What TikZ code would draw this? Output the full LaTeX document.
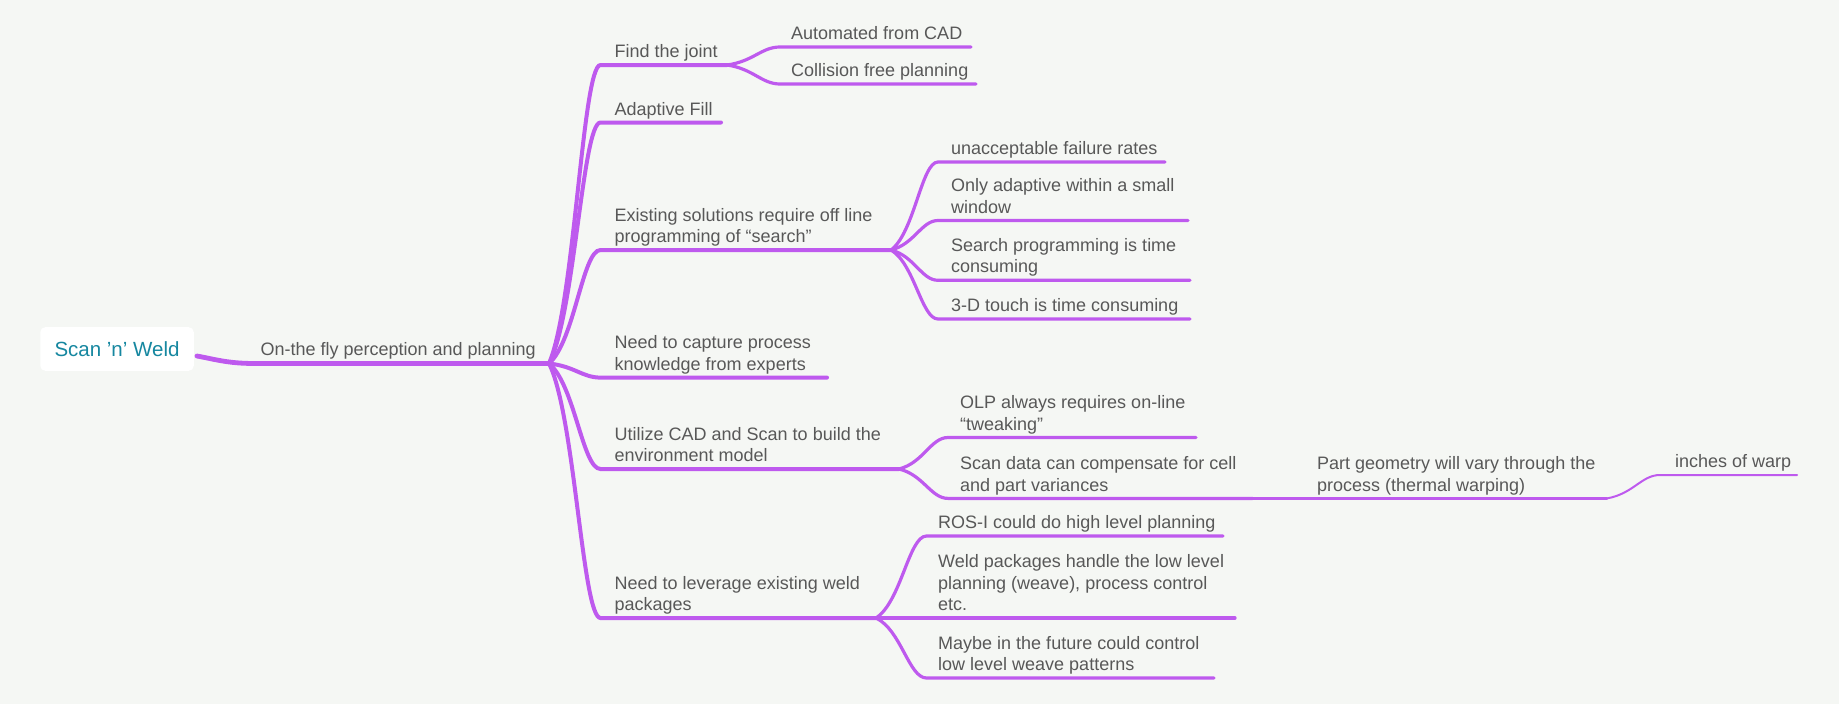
\documentclass[tikz,border=0pt]{standalone}
\usepackage{fontspec}
\setmainfont{Liberation Sans}
\usetikzlibrary{calc}
\definecolor{bgc}{RGB}{245,247,244}
\definecolor{brc}{RGB}{190,90,238}
\definecolor{txc}{RGB}{88,88,88}
\definecolor{rtc}{RGB}{22,135,160}
% connector: curve from #2 to #3, then straight underline to #4
\newcommand\conn[4][]{\draw[#1] let \p1=(#2), \p2=(#3) in (#2) .. controls (0.5*\x1+0.5*\x2, 0.8*\y1+0.2*\y2) and (0.35*\x1+0.65*\x2, \y2) .. (#3) -- (#4);}
\begin{document}
\begin{tikzpicture}[x=1pt,y=-1pt,
  lab/.style={anchor=base west, inner sep=0pt, align=left, text=txc, font=\fontsize{18}{21.5}\selectfont},
  rootbox/.style={fill=white, rounded corners=5pt, minimum width=153.5pt, minimum height=43.6pt, inner sep=0pt, text=rtc, font=\fontsize{20.5}{24}\selectfont},
  l0/.style={draw=brc, line width=4.8pt, line cap=round},
  l1/.style={draw=brc, line width=4pt, line cap=round},
  l2/.style={draw=brc, line width=3.2pt, line cap=round},
  l3/.style={draw=brc, line width=2.4pt, line cap=round},
  l4/.style={draw=brc, line width=2pt, line cap=round}]
\fill[bgc] (0,0) rectangle (1839,704);
\useasboundingbox (0,0) rectangle (1839,704);

% root
\node[rootbox] (root) at (117,349) {Scan ’n’ Weld};
\coordinate (r0) at ($(root.east)+(3,7)$);
\coordinate (r1) at (255,363.5);
\coordinate (H) at (549,363.5);
\draw[l0] (r0) .. controls (216,359.5) and (228,363.5) .. (r1) -- (H);
\node[lab] (main) at (260.4,355.5) {On-the fly perception and planning};

% level-1 coordinates
\coordinate (fj-s) at (600.5,65);   \coordinate (fj-e) at (727,65);
\coordinate (af-s) at (600.5,122.5);\coordinate (af-e) at (721,122.5);
\coordinate (es-s) at (600.5,250);  \coordinate (es-e) at (891,250);
\coordinate (nc-s) at (600.5,377.6);\coordinate (nc-e) at (827,377.6);
\coordinate (uc-s) at (600.5,469);  \coordinate (uc-e) at (899,469);
\coordinate (lv-s) at (600.5,618);  \coordinate (lv-e) at (876,618);

\conn[l1]{H}{fj-s}{fj-e}
\conn[l1]{H}{af-s}{af-e}
\conn[l1]{H}{es-s}{es-e}
\conn[l1]{H}{nc-s}{nc-e}
\conn[l1]{H}{uc-s}{uc-e}
\conn[l1]{H}{lv-s}{lv-e}

\node[lab] (fj) at (614.5,57.5) {Find the joint};
\node[lab] (af) at (614.5,115) {Adaptive Fill};
\node[lab] (es) at (614.5,242.5) {Existing solutions require off line\\programming of “search”};
\node[lab] (nc) at (614.5,370) {Need to capture process\\knowledge from experts};
\node[lab] (uc) at (614.5,461.5) {Utilize CAD and Scan to build the\\environment model};
\node[lab] (lv) at (614.5,610.5) {Need to leverage existing weld\\packages};

% Find the joint children
\coordinate (ac-s) at (780,47);  \coordinate (ac-e) at (971,47);
\coordinate (cf-s) at (780,84);  \coordinate (cf-e) at (976,84);
\conn[l2]{fj-e}{ac-s}{ac-e}
\conn[l2]{fj-e}{cf-s}{cf-e}
\node[lab] (ac) at (791,39.5) {Automated from CAD};
\node[lab] (cf) at (791,76.5) {Collision free planning};

% Existing solutions children
\coordinate (ua-s) at (938,162);   \coordinate (ua-e) at (1165,162);
\coordinate (oa-s) at (938,220.5); \coordinate (oa-e) at (1188,220.5);
\coordinate (sp-s) at (938,280.3); \coordinate (sp-e) at (1190,280.3);
\coordinate (td-s) at (938,319);   \coordinate (td-e) at (1190,319);
\conn[l2]{es-e}{ua-s}{ua-e}
\conn[l2]{es-e}{oa-s}{oa-e}
\conn[l2]{es-e}{sp-s}{sp-e}
\conn[l2]{es-e}{td-s}{td-e}
\node[lab] (ua) at (951,154.5) {unacceptable failure rates};
\node[lab] (oa) at (951,213) {Only adaptive within a small\\window};
\node[lab] (sp) at (951,272.8) {Search programming is time\\consuming};
\node[lab] (td) at (951,311.5) {3-D touch is time consuming};

% Utilize children
\coordinate (olp-s) at (948,437.5); \coordinate (olp-e) at (1196,437.5);
\coordinate (sd-s) at (948,498.4);  \coordinate (sd-e) at (1252.6,498.4);
\conn[l2]{uc-e}{olp-s}{olp-e}
\conn[l2]{uc-e}{sd-s}{sd-e}
\node[lab] (olp) at (960,430) {OLP always requires on-line\\“tweaking”};
\node[lab] (sd) at (960,491) {Scan data can compensate for cell\\and part variances};

\coordinate (pg-e) at (1607,498.4);
\draw[l3] (sd-e) -- (pg-e);
\node[lab] (pg) at (1317,491) {Part geometry will vary through the\\process (thermal warping)};

\coordinate (iw-s) at (1660,475); \coordinate (iw-e) at (1797,475);
\conn[l4]{pg-e}{iw-s}{iw-e}
\node[lab] (iw) at (1675,467.5) {inches of warp};

% Leverage children
\coordinate (ros-s) at (926.5,536); \coordinate (ros-e) at (1223,536);
\coordinate (wp-s) at (926.5,618);  \coordinate (wp-e) at (1235,618);
\coordinate (mf-s) at (926.5,678);  \coordinate (mf-e) at (1214,678);
\conn[l2]{lv-e}{ros-s}{ros-e}
\conn[l2]{lv-e}{wp-s}{wp-e}
\conn[l2]{lv-e}{mf-s}{mf-e}
\node[lab] (ros) at (938,528.5) {ROS-I could do high level planning};
\node[lab] (wp) at (938,610.5) {Weld packages handle the low level\\planning (weave), process control\\etc.};
\node[lab] (mf) at (938,670.5) {Maybe in the future could control\\low level weave patterns};
\end{tikzpicture}
\end{document}
